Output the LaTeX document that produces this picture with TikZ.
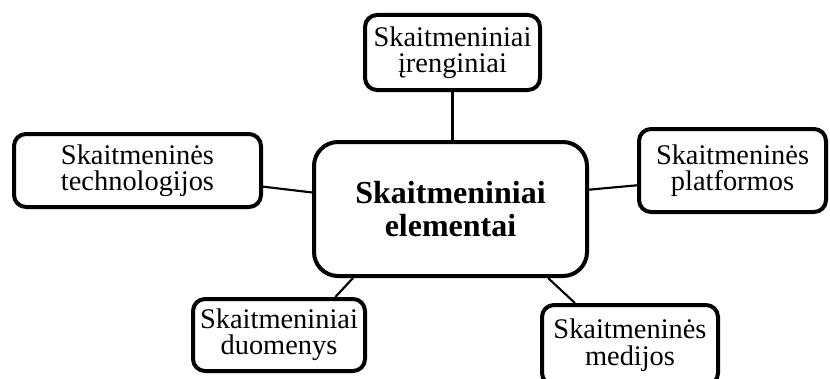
\documentclass[tikz,border=0pt]{standalone}
\usepackage{fontspec}
\setmainfont{Liberation Serif}
\usetikzlibrary{calc}
\begin{document}
\begin{tikzpicture}[x=0.75pt,y=-0.75pt,
  box/.style={draw=black, line width=3pt, rounded corners=9pt, inner sep=0pt, align=center,
    font=\fontsize{21.3}{19.8}\selectfont},
  mainbox/.style={draw=black, line width=3pt, rounded corners=18pt, inner sep=0pt, align=center,
    font=\fontsize{24}{25}\selectfont\bfseries},
  link/.style={draw=black, line width=1.6pt}]
\useasboundingbox (0,0) rectangle (830,378);
\clip (0,0) rectangle (830,378);
\node[mainbox, minimum width=273*0.75pt, minimum height=134*0.75pt] (c) at (450.5,209) {Skaitmeniniai\\elementai};
\node[box, minimum width=175*0.75pt, minimum height=75*0.75pt] (t) at (452.5,52.5) {Skaitmeniniai\\įrenginiai};
\node[box, minimum width=247*0.75pt, minimum height=73*0.75pt] (l) at (137.5,170.5) {Skaitmeninės\\technologijos};
\node[box, minimum width=187*0.75pt, minimum height=83*0.75pt] (r) at (732.5,170.5) {Skaitmeninės\\platformos};
\node[box, minimum width=172*0.75pt, minimum height=72*0.75pt] (bl) at (279,335) {Skaitmeniniai\\duomenys};
\node[box, minimum width=176*0.75pt, minimum height=80*0.75pt] (br) at (630,345) {Skaitmeninės\\medijos};
\draw[link] (t.south) -- (t.south |- c.north);
\draw[link] ($(l.south east)!0.29!(l.north east)$) -- ($(c.south west)!0.62!(c.north west)$);
\draw[link] ($(c.south east)!0.64!(c.north east)$) -- ($(r.south west)!0.33!(r.north west)$);
\draw[link] ($(c.south west)!0.148!(c.south east)$) -- ($(bl.north west)!0.82!(bl.north east)$);
\draw[link] ($(c.south west)!0.852!(c.south east)$) -- ($(br.north west)!0.194!(br.north east)$);
\end{tikzpicture}
\end{document}
